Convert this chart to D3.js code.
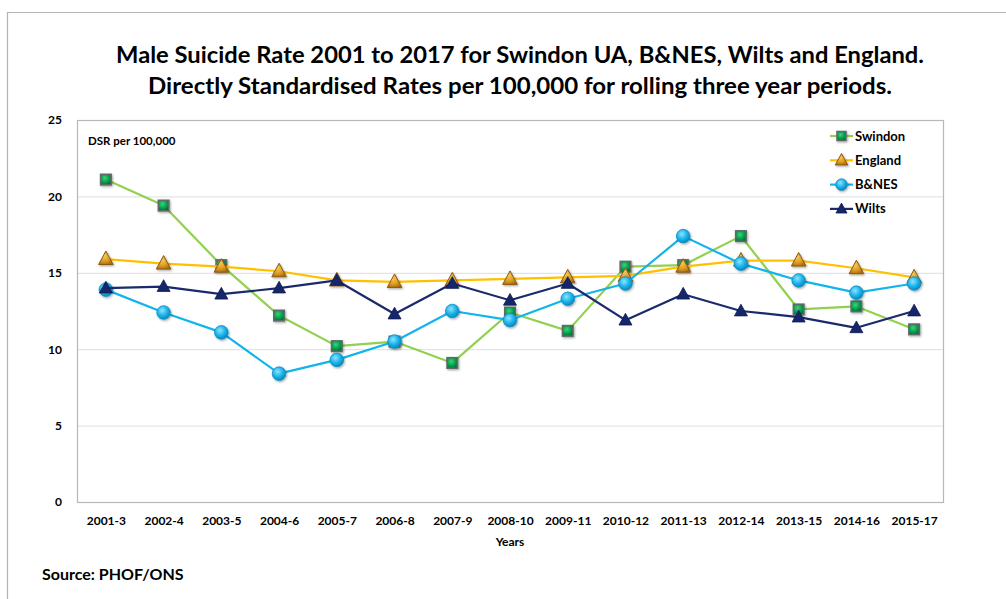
<!DOCTYPE html>
<html>
<head>
<meta charset="utf-8">
<script src="https://cdn.jsdelivr.net/npm/d3@7"></script>
<style>
  html, body { margin: 0; padding: 0; background: #fff; }
  svg { display: block; font-family: Lato, "Open Sans", sans-serif; }
</style>
</head>
<body>
<svg id="chart" width="1006" height="599"></svg>
<script>
// Rolling three-year periods
const periods = ["2001-3","2002-4","2003-5","2004-6","2005-7","2006-8","2007-9","2008-10",
  "2009-11","2010-12","2011-13","2012-14","2013-15","2014-16","2015-17"];

// Directly standardised male suicide rates per 100,000
const swindon = [21.1, 19.4, 15.5, 12.2, 10.2, 10.5, 9.1, 12.4, 11.2, 15.4, 15.5, 17.4, 12.6, 12.8, 11.3];
const england = [15.9, 15.6, 15.4, 15.1, 14.5, 14.4, 14.5, 14.6, 14.7, 14.8, 15.4, 15.8, 15.8, 15.3, 14.7];
const bnes    = [13.9, 12.4, 11.1, 8.4, 9.3, 10.5, 12.5, 11.9, 13.3, 14.3, 17.4, 15.6, 14.5, 13.7, 14.3];
const wilts   = [14.0, 14.1, 13.6, 14.0, 14.5, 12.3, 14.3, 13.2, 14.3, 11.9, 13.6, 12.5, 12.1, 11.4, 12.5];

const yTicks = [0, 5, 10, 15, 20, 25];

const series = [
  { name: "Swindon", values: swindon, line: "#92d050", shape: "square" },
  { name: "England", values: england, line: "#ffc000", shape: "triangleGold" },
  { name: "B&NES",   values: bnes,    line: "#12b4ec", shape: "circle" },
  { name: "Wilts",   values: wilts,   line: "#1a2a6c", shape: "triangleNavy" }
];

const svg = d3.select("#chart");

// Gradients for the bevelled marker look
const defs = svg.append("defs");
function radial(id, stops) {
  const g = defs.append("radialGradient").attr("id", id)
    .attr("cx", "40%").attr("cy", "35%").attr("r", "70%");
  stops.forEach(s => g.append("stop").attr("offset", s[0]).attr("stop-color", s[1]));
}
radial("gCircle", [["0%", "#8fe3ff"], ["55%", "#19b2ea"], ["100%", "#0a7fb0"]]);
radial("gSquare", [["0%", "#3fd17a"], ["60%", "#00a04a"], ["100%", "#006b32"]]);
radial("gTri", [["0%", "#f6c85a"], ["60%", "#dc9a1e"], ["100%", "#a86a10"]]);
const shadow = defs.append("filter").attr("id", "shadow")
  .attr("x", "-50%").attr("y", "-50%").attr("width", "200%").attr("height", "200%");
shadow.append("feDropShadow").attr("dx", 1).attr("dy", 1.2).attr("stdDeviation", 0.8)
  .attr("flood-color", "#000").attr("flood-opacity", 0.35);

// Outer chart frame
svg.append("path")
  .attr("d", "M7.5,610 V12.5 H1020")
  .attr("fill", "none").attr("stroke", "#b3b3b3").attr("stroke-width", 1.2);

// Title
const title = svg.append("g").attr("font-weight", 700).attr("fill", "#000")
  .attr("text-anchor", "middle");
title.append("text").attr("x", 520).attr("y", 63).attr("font-size", 22)
  .attr("textLength", 808).attr("lengthAdjust", "spacingAndGlyphs")
  .text("Male Suicide Rate 2001 to 2017 for Swindon UA, B&NES, Wilts and England.");
title.append("text").attr("x", 520).attr("y", 94).attr("font-size", 22)
  .attr("textLength", 744).attr("lengthAdjust", "spacingAndGlyphs")
  .text("Directly Standardised Rates per 100,000 for rolling three year periods.");

// Plot area
const plot = { left: 77, top: 120, right: 943, bottom: 502 };

const x = d3.scalePoint().domain(periods)
  .range([plot.left, plot.right]).padding(0.5);
const y = d3.scaleLinear().domain([0, 25]).range([plot.bottom, plot.top]);

// Horizontal gridlines
svg.append("g").selectAll("line").data(yTicks.filter(t => t > 0 && t < 25)).join("line")
  .attr("x1", plot.left).attr("x2", plot.right)
  .attr("y1", d => y(d) + 0.5).attr("y2", d => y(d) + 0.5)
  .attr("stroke", "#dedede").attr("stroke-width", 1);

// Plot area border
svg.append("rect")
  .attr("x", plot.left + 0.5).attr("y", plot.top + 0.5)
  .attr("width", plot.right - plot.left).attr("height", plot.bottom - plot.top)
  .attr("fill", "none").attr("stroke", "#b8b8b8").attr("stroke-width", 1.2);

// Y axis labels
const yAxis = d3.axisLeft(y).tickValues(yTicks).tickSize(0).tickPadding(15);
svg.append("g").attr("transform", `translate(${plot.left},0)`).call(yAxis)
  .call(g => g.select(".domain").remove())
  .call(g => g.selectAll("text").attr("font-size", 12).attr("font-weight", 700)
    .attr("font-family", "Lato, sans-serif").attr("fill", "#000"));

// X axis labels
const xAxis = d3.axisBottom(x).tickSize(0).tickPadding(14);
svg.append("g").attr("transform", `translate(0,${plot.bottom})`).call(xAxis)
  .call(g => g.select(".domain").remove())
  .call(g => g.selectAll("text").attr("font-size", 12).attr("font-weight", 700)
    .attr("font-family", "Lato, sans-serif").attr("fill", "#000"));

svg.append("text").attr("x", 510).attr("y", 546).attr("text-anchor", "middle")
  .attr("font-size", 12).attr("font-weight", 700).text("Years");

svg.append("text").attr("x", 88).attr("y", 145)
  .attr("font-size", 11.5).attr("font-weight", 700).text("DSR per 100,000");

svg.append("text").attr("x", 42).attr("y", 580)
  .attr("font-size", 16).attr("font-weight", 700).text("Source: PHOF/ONS");

// Marker drawing
function drawMarker(sel, shape, scale = 1) {
  if (shape === "square") {
    const s = 10.5 * scale;
    sel.append("rect").attr("x", -s / 2).attr("y", -s / 2).attr("width", s).attr("height", s)
      .attr("fill", "url(#gSquare)").attr("stroke", "#5e6b6a").attr("stroke-width", 1.6);
  } else if (shape === "circle") {
    sel.append("circle").attr("r", 6.8 * scale)
      .attr("fill", "url(#gCircle)").attr("stroke", "#0b8fc4").attr("stroke-width", 0.8);
  } else if (shape === "triangleGold") {
    const s = 7.3 * scale;
    sel.append("path").attr("d", `M0,${-s * 1.1} L${s},${s * 0.75} L${-s},${s * 0.75} Z`)
      .attr("fill", "url(#gTri)").attr("stroke", "#8a5a12").attr("stroke-width", 1);
  } else {
    const s = 6.5 * scale;
    sel.append("path").attr("d", `M0,${-s * 1.05} L${s},${s * 0.75} L${-s},${s * 0.75} Z`)
      .attr("fill", "#16266a").attr("stroke", "#0d1a50").attr("stroke-width", 0.8);
  }
}

const line = d3.line().x((d, i) => x(periods[i])).y(d => y(d));

series.forEach(s => {
  const g = svg.append("g");
  g.append("path").datum(s.values).attr("d", line)
    .attr("fill", "none").attr("stroke", s.line).attr("stroke-width", 2.2)
    .attr("stroke-linejoin", "round");
  g.selectAll("g.pt").data(s.values).join("g").attr("class", "pt")
    .attr("transform", (d, i) => `translate(${x(periods[i])},${y(d)})`)
    .attr("filter", s.shape === "triangleNavy" ? null : "url(#shadow)")
    .each(function () { drawMarker(d3.select(this), s.shape); });
});

// Legend
const legend = svg.append("g").attr("transform", "translate(830,136)");
series.forEach((s, i) => {
  const row = legend.append("g").attr("transform", `translate(0,${i * 24.3})`);
  row.append("line").attr("x1", 0).attr("x2", 23).attr("y1", 0).attr("y2", 0)
    .attr("stroke", s.line).attr("stroke-width", 2.2);
  const m = row.append("g").attr("transform", "translate(11.5,0)")
    .attr("filter", s.shape === "triangleNavy" ? null : "url(#shadow)");
  drawMarker(m, s.shape, 0.85);
  row.append("text").attr("x", 25).attr("y", 4.5)
    .attr("font-size", 13).attr("font-weight", 700).text(s.name);
});
</script>
</body>
</html>
